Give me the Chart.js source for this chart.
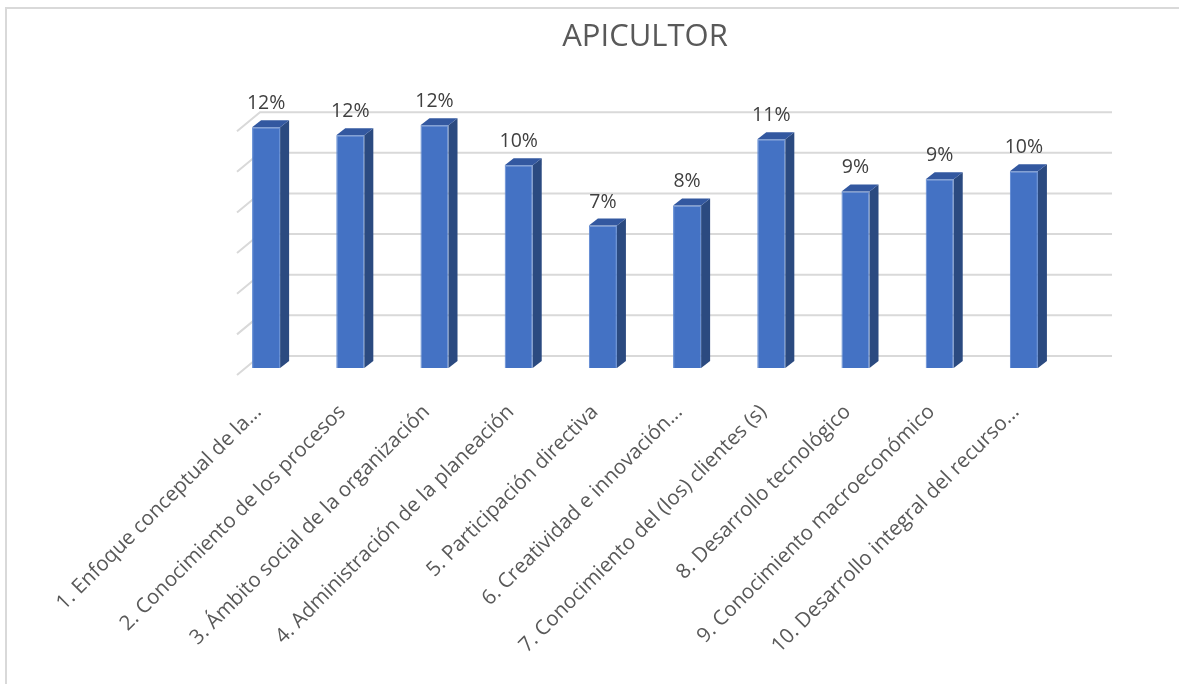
<!DOCTYPE html>
<html>
<head>
<meta charset="utf-8">
<title>APICULTOR</title>
<script src="https://cdn.jsdelivr.net/npm/chart.js@4/dist/chart.umd.min.js"></script>
<style>
  html, body { margin: 0; padding: 0; background: #fff; }
  #wrap { position: relative; width: 1179px; height: 684px; }
</style>
</head>
<body>
<div id="wrap"><canvas id="chart" width="1179" height="684"></canvas></div>
<script>
// --- data ---
const categories = [
    '1. Enfoque conceptual de la...',
    '2. Conocimiento de los procesos',
    '3. Ámbito social de la organización',
    '4. Administración de la planeación',
    '5. Participación directiva',
    '6. Creatividad e innovación...',
    '7. Conocimiento del (los) clientes (s)',
    '8. Desarrollo tecnológico',
    '9. Conocimiento macroeconómico',
    '10. Desarrollo integral del recurso...'
];
const values = [0.12, 0.116, 0.121, 0.101, 0.071, 0.081, 0.114, 0.088, 0.094, 0.098];
const gridTicks = [0, 0.02, 0.04, 0.06, 0.08, 0.10, 0.12];

// --- 3D look ---
const FRONT = '#4472C4';
const SIDE = '#2B4A80';
const TOP = '#3358A0';
const GRID = '#d9d9d9';
const DEPTH_X = 9, DEPTH_Y = 7;

// frame + back wall gridlines with left side stubs, side/top faces, value labels
const wallPlugin = {
    id: 'wall',
    beforeDraw(chart) {
        const ctx = chart.ctx;
        ctx.save();
        ctx.strokeStyle = GRID;
        ctx.lineWidth = 2;
        ctx.beginPath();
        ctx.moveTo(6, chart.height);
        ctx.lineTo(6, 8);
        ctx.lineTo(chart.width, 8);
        ctx.stroke();
        ctx.restore();
    },
    beforeDatasetsDraw(chart) {
        const ctx = chart.ctx;
        const area = chart.chartArea;
        const y = chart.scales.y;
        ctx.save();
        ctx.strokeStyle = GRID;
        ctx.lineWidth = 2;
        gridTicks.forEach(v => {
            const yp = y.getPixelForValue(v);
            const d = (yp - area.bottom) * 1.0125;
            const yBack = area.bottom - 12 + d;
            const yFront = area.bottom + 7 + d;
            ctx.beginPath();
            ctx.moveTo(area.left + 13, yFront);
            ctx.lineTo(area.left + 36, yBack);
            ctx.lineTo(area.right + 46, yBack);
            ctx.stroke();
        });
        ctx.restore();
    },
    afterDatasetsDraw(chart) {
        const ctx = chart.ctx;
        const meta = chart.getDatasetMeta(0);
        ctx.save();
        meta.data.forEach((bar, i) => {
            const p = bar.getProps(['x', 'y', 'base', 'width'], true);
            const l = p.x - p.width / 2, r = p.x + p.width / 2;
            // side face
            ctx.fillStyle = SIDE;
            ctx.beginPath();
            ctx.moveTo(r, p.y);
            ctx.lineTo(r + DEPTH_X, p.y - DEPTH_Y);
            ctx.lineTo(r + DEPTH_X, p.base - DEPTH_Y);
            ctx.lineTo(r, p.base);
            ctx.closePath();
            ctx.fill();
            // top face
            ctx.fillStyle = TOP;
            ctx.beginPath();
            ctx.moveTo(l, p.y);
            ctx.lineTo(l + DEPTH_X, p.y - DEPTH_Y);
            ctx.lineTo(r + DEPTH_X, p.y - DEPTH_Y);
            ctx.lineTo(r, p.y);
            ctx.closePath();
            ctx.fill();
            // value label
            ctx.fillStyle = '#404040';
            ctx.font = '19.5px "Open Sans"';
            ctx.textAlign = 'center';
            ctx.textBaseline = 'alphabetic';
            ctx.fillText(Math.round(values[i] * 100) + '%', p.x, p.y - 18);
        });
        ctx.restore();
    }
};

new Chart(document.getElementById('chart'), {
    type: 'bar',
    data: {
        labels: categories,
        datasets: [{
            data: values,
            backgroundColor: FRONT,
            borderColor: '#5a86d2',
            borderWidth: 1,
            barPercentage: 0.333,
            categoryPercentage: 1,
            clip: false
        }]
    },
    options: {
        responsive: false,
        animation: false,
        layout: { padding: { left: 224, right: 113, top: 0, bottom: 0 } },
        plugins: {
            legend: { display: false },
            tooltip: { enabled: false },
            title: {
                display: true,
                text: 'APICULTOR',
                fullSize: false,
                color: '#595959',
                font: { family: 'Open Sans', size: 31, weight: 'normal' },
                padding: { top: 19, bottom: 71 }
            }
        },
        scales: {
            x: {
                grid: { display: false, drawTicks: false },
                border: { display: false },
                ticks: {
                    autoSkip: false,
                    maxRotation: 45,
                    minRotation: 45,
                    color: '#595959',
                    font: { family: 'Open Sans', size: 20.5 },
                    padding: 32,
                    labelOffset: -8
                },
                afterFit(scale) { scale.height = 316; }
            },
            y: {
                display: false,
                min: 0,
                max: 0.12
            }
        }
    },
    plugins: [wallPlugin]
});
</script>
</body>
</html>
